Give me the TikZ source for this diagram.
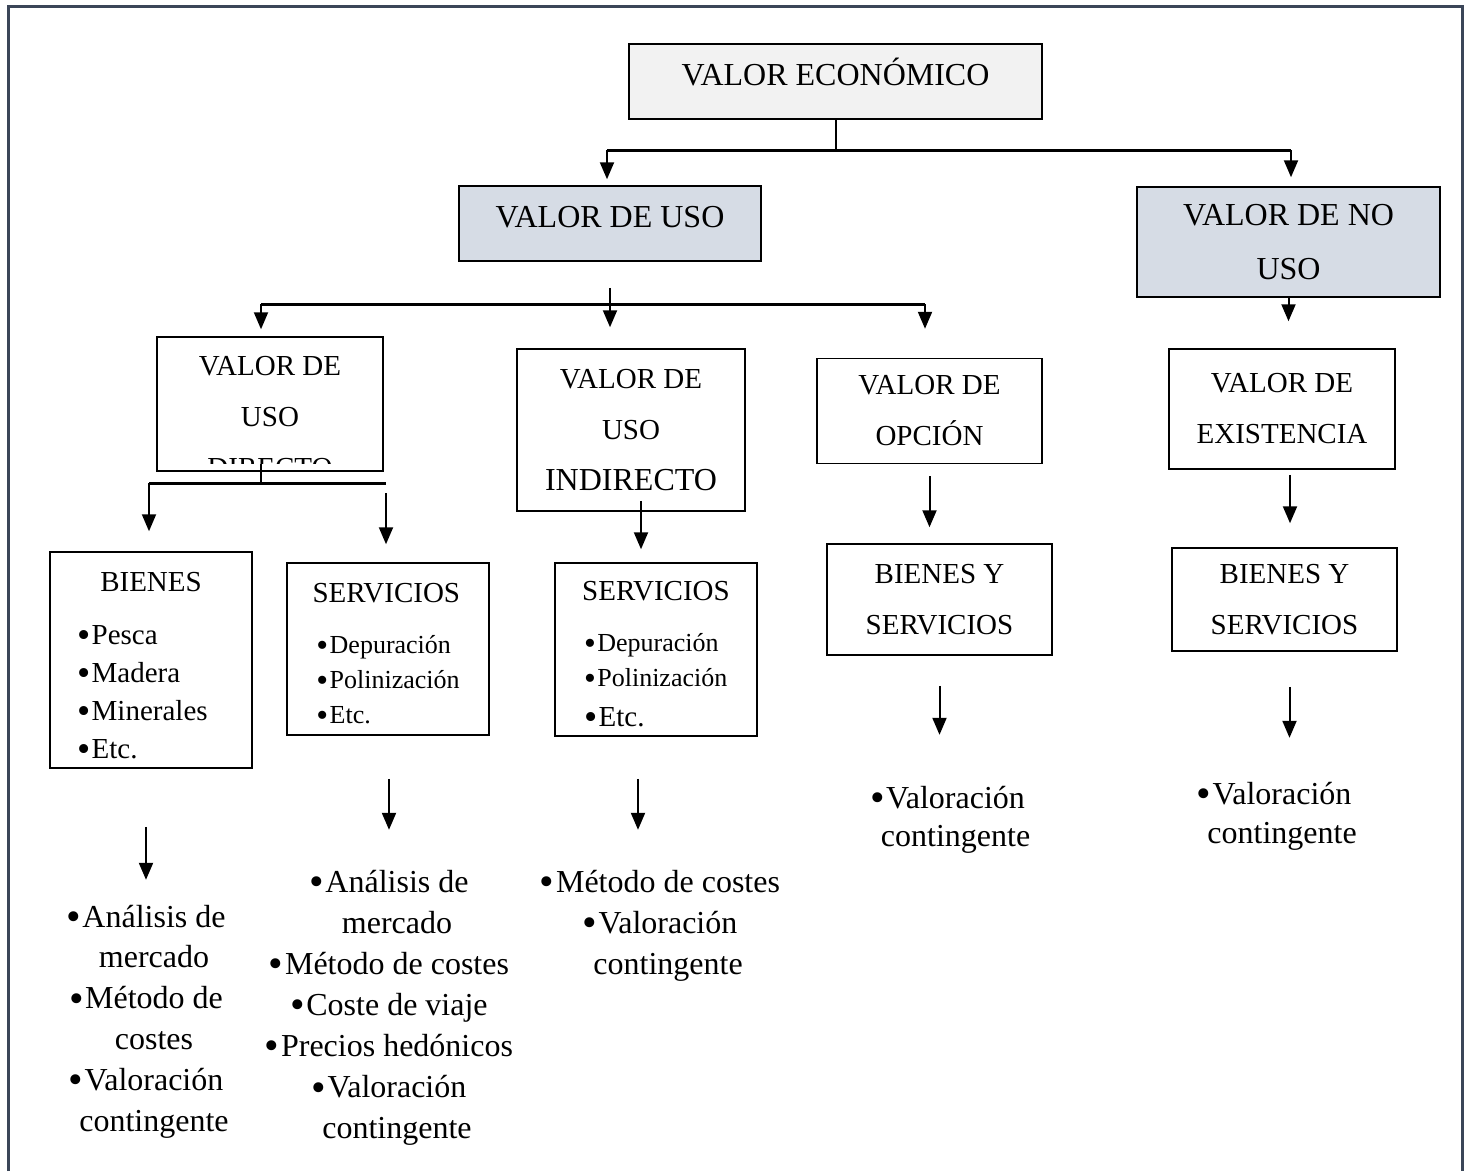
\documentclass[tikz,border=0pt]{standalone}
\usepackage{fontspec}
\setmainfont{Liberation Serif}
\usetikzlibrary{arrows.meta}

\definecolor{framegray}{HTML}{3B4658}
\definecolor{boxgray}{HTML}{F2F2F2}
\definecolor{boxblue}{HTML}{D6DCE5}
\newcommand{\bul}{\raisebox{-0.11em}{\scalebox{1.3}{\textbullet}}\kern1.5pt}
\newcommand{\gap}{\phantom{\bul}}

\begin{document}
\begin{tikzpicture}[x=1pt,y=-1pt]

\tikzstyle{box}=[draw,line width=1.5pt,inner sep=0pt,align=center,font=\fontsize{29}{51}\selectfont]
\tikzstyle{arr}=[line width=2pt,-{Triangle[length=17pt,width=14pt]}]
\tikzstyle{bar}=[line width=3pt]
\tikzstyle{item}=[anchor=base,inner sep=0pt,text height=22pt,text depth=7pt,font=\fontsize{32}{41}\selectfont]

\useasboundingbox (0,0) rectangle (1469,1171);

% outer frame
\draw[framegray,line width=3.5pt] (8.5,1171) -- (8.5,6.5) -- (1462.5,6.5) -- (1462.5,1171);

% top of the tree
\node[box,fill=boxgray,minimum width=413,minimum height=75,font=\fontsize{32}{54}\selectfont,text height=21pt,text depth=14pt] (ve) at (835.5,81.5) {VALOR ECONÓMICO};
\node[box,fill=boxblue,minimum width=302,minimum height=75,font=\fontsize{32}{54}\selectfont,text height=21pt,text depth=14pt] (vu) at (610,223.5) {VALOR DE USO};
\node[box,fill=boxblue,minimum width=303,minimum height=110,font=\fontsize{32}{54}\selectfont] (vnu) at (1288.5,242) {VALOR DE NO\\USO};

% kinds of value
\begin{scope}
\clip (157,337) rectangle (383,463);
\node[inner sep=0pt,align=center,font=\fontsize{29}{51}\selectfont] (vudt) at (270,417) {VALOR DE\\USO\\DIRECTO};
\end{scope}
\node[box,minimum width=226,minimum height=134] (vud) at (270,404) {};
\node[box,minimum width=228,minimum height=162] (vui) at (631,430) {VALOR DE\\USO\\{\fontsize{32}{51}\selectfont INDIRECTO}};
\node[box,minimum width=225,minimum height=105] (vo) at (929.5,411) {VALOR DE\\OPCIÓN};
\node[box,minimum width=226,minimum height=120] (vex) at (1282,409) {VALOR DE\\EXISTENCIA};

% goods and services
\node[box,minimum width=202,minimum height=216,align=left,font=\fontsize{29}{38}\selectfont] (bienes) at (151,660) {\rule{0pt}{33pt}\makebox[148pt]{BIENES}\\[15pt]\bul Pesca\\\bul Madera\\\bul Minerales\\\bul Etc.};
\node[box,minimum width=202,minimum height=172,align=left,font=\fontsize{26}{35}\selectfont] (sdir) at (388,649) {\rule{0pt}{31pt}\makebox[140pt]{\fontsize{29}{35}\selectfont SERVICIOS}\\[16pt]\bul Depuración\\\bul Polinización\\\bul Etc.};
\node[box,minimum width=202,minimum height=173,align=left,font=\fontsize{26}{35}\selectfont] (sind) at (656,649.5) {\rule{0pt}{31pt}\makebox[144pt]{\fontsize{29}{35}\selectfont SERVICIOS}\\[16pt]\bul Depuración\\\bul Polinización\\[5pt]{\fontsize{29}{35}\selectfont\bul Etc.}};
\node[box,minimum width=225,minimum height=111] (bsop) at (939.5,599.5) {BIENES Y\\SERVICIOS};
\node[box,minimum width=225,minimum height=103] (bsex) at (1284.5,599.5) {BIENES Y\\SERVICIOS};

% valuation methods
\foreach \t [count=\i] in {\bul Análisis de,\gap mercado,\bul Método de,\gap costes,\bul Valoración,\gap contingente}
  \node[item] (l\i) at (146,927+40.8*\i-40.8) {\t};
\foreach \t [count=\i] in {\bul Análisis de,\gap mercado,\bul Método de costes,\bul Coste de viaje,\bul Precios hedónicos,\bul Valoración,\gap contingente}
  \node[item] (m\i) at (389,892+41.1*\i-41.1) {\t};
\foreach \t [count=\i] in {\bul Método de costes,\bul Valoración,\gap contingente}
  \node[item] (n\i) at (660,892+41*\i-41) {\t};
\foreach \t [count=\i] in {\bul Valoración,\gap contingente}
  \node[item] (o\i) at (947.5,808+38*\i-38) {\t};
\foreach \t [count=\i] in {\bul Valoración,\gap contingente}
  \node[item] (e\i) at (1274,804+39*\i-39) {\t};

% branching points
\coordinate (j1l) at (607,150);
\coordinate (j1r) at (1291,150);
\coordinate (j2l) at (261,304);
\coordinate (j2r) at (925,304);
\coordinate (j3l) at (149,483);
\coordinate (j3m) at (261,483);
\coordinate (j3r) at (386,483);
\coordinate (k1) at ([xshift=10pt]vui.south);
\coordinate (k2) at ([xshift=8pt]vex.south);
\coordinate (k3) at ([xshift=-18pt]sind.south);
\coordinate (k4) at ([xshift=5pt]bsex.south);

% links between the boxes
\draw[line width=2pt] (ve.south) -- (ve.south |- j1l);
\draw[bar] (j1l) -- (j1r);
\draw[arr,shorten >=6pt] (j1l) -- (j1l |- vu.north);
\draw[arr,shorten >=9pt] (j1r) -- (j1r |- vnu.north);

\draw[bar] (j2l) -- (j2r);
\draw[arr,shorten <=26pt,shorten >=21pt] (vu.south) -- (vu.south |- vui.north);
\draw[arr,shorten >=7pt] (j2l) -- (j2l |- vud.north);
\draw[arr,shorten >=29pt] (j2r) -- (j2r |- vo.north);
\draw[arr,shorten >=27pt] (vnu.south) -- (vnu.south |- vex.north);

\draw[line width=2pt,shorten >=-8pt] (j3m) -- (j3m |- vud.south);
\draw[bar] (j3l) -- (j3r);
\draw[arr,shorten >=20pt] (j3l) -- (j3l |- bienes.north);
\draw[arr,shorten <=10pt,shorten >=18pt] (j3r) -- (j3r |- sdir.north);
\draw[arr,shorten <=-11pt,shorten >=13pt] (k1) -- (k1 |- sind.north);
\draw[arr,shorten <=12pt,shorten >=16pt] (vo.south) -- (vo.south |- bsop.north);
\draw[arr,shorten <=5pt,shorten >=24pt] (k2) -- (k2 |- bsex.north);

% links to the methods
\draw[arr,shorten <=58pt,shorten >=25pt] (l1.north |- bienes.south) -- (l1.north);
\draw[arr,shorten <=43pt,shorten >=40pt] (m1.north |- sdir.south) -- (m1.north);
\draw[arr,shorten <=42pt,shorten >=40pt] (k3) -- (k3 |- n1.north);
\draw[arr,shorten <=30pt,shorten >=51pt] (bsop.south) -- (bsop.south |- o1.north);
\draw[arr,shorten <=35pt,shorten >=44pt] (k4) -- (k4 |- e1.north);

\end{tikzpicture}
\end{document}
